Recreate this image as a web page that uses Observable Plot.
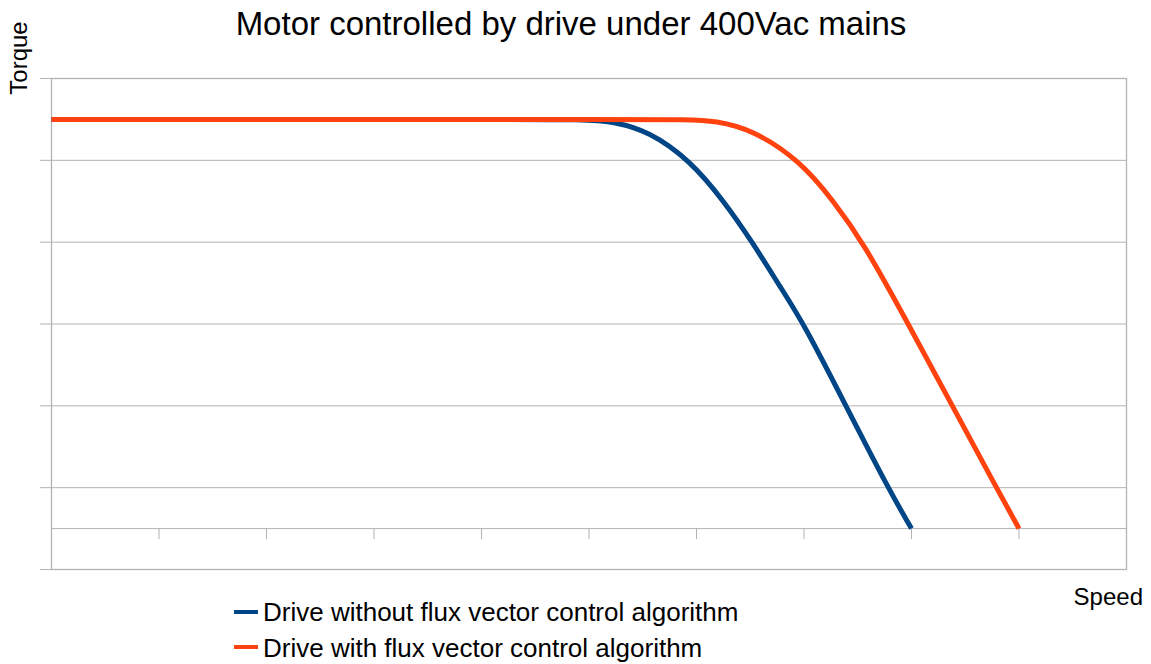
<!DOCTYPE html>
<html>
<head>
<meta charset="utf-8">
<script src="https://cdn.jsdelivr.net/npm/d3@7"></script>
<script src="https://cdn.jsdelivr.net/npm/@observablehq/plot@0.6"></script>
<style>
  html, body { margin: 0; padding: 0; background: #fff; }
  #wrap { position: relative; width: 1151px; height: 664px; font-family: "Liberation Sans", Arial, sans-serif; color: #000; }
  #wrap svg { position: absolute; left: 0; top: 0; }
  .abs { position: absolute; white-space: nowrap; }
  #title { left: 0; width: 1142px; top: 7px; text-align: center; font-size: 33px; line-height: 33px; }
  #torque { left: 19px; top: 58px; font-size: 24px; line-height: 24px; transform: translate(-50%, -50%) rotate(-90deg); }
  #speed { right: 8px; top: 585px; font-size: 24px; line-height: 24px; }
  .legtext { left: 263px; font-size: 26px; line-height: 26px; }
  .sw { left: 234px; width: 24px; height: 4px; }
</style>
</head>
<body>
<div id="wrap"></div>
<script>
// ---- data ----
const seriesNames = ["Drive without flux vector control algorithm", "Drive with flux vector control algorithm"];
const seriesColors = ["#004586", "#ff420e"];

const blueSpeed  = [0, 1, 2, 3, 4, 5, 5.23, 5.55, 5.94, 6.25, 6.52, 6.78, 7.0, 7.39, 7.78, 8.0];
const blueTorque = [5.5, 5.5, 5.5, 5.5, 5.5, 5.5, 5.47, 5.36, 5.0, 4.51, 4.0, 3.45, 3.0, 2.0, 1.0, 0.5];

const orangeSpeed  = [0, 1, 2, 3, 4, 5, 6, 6.16, 6.5, 6.96, 7.27, 7.55, 7.97, 8.38, 8.79, 9.0];
const orangeTorque = [5.5, 5.5, 5.5, 5.5, 5.5, 5.5, 5.5, 5.48, 5.39, 5.0, 4.51, 4.0, 3.0, 2.0, 1.0, 0.5];

const xTicks = [0, 1, 2, 3, 4, 5, 6, 7, 8, 9, 10];
const yTicks = [0, 1, 2, 3, 4, 5, 6];
const xAxisAt = [0.5];

const titleText = "Motor controlled by drive under 400Vac mains";
const yLabel = "Torque";
const xLabel = "Speed";

// ---- build ----
const blue = blueSpeed.map((s, i) => ({speed: s, torque: blueTorque[i]}));
const orange = orangeSpeed.map((s, i) => ({speed: s, torque: orangeTorque[i]}));
const grid = "#b3b3b3";

const chart = Plot.plot({
  width: 1151,
  height: 664,
  marginLeft: 51,
  marginRight: 25,
  marginTop: 78,
  marginBottom: 95,
  x: {domain: [0, 10], axis: null},
  y: {domain: [0, 6], axis: null},
  style: {background: "#fff", color: grid},
  marks: [
    Plot.ruleY(yTicks, {x1: 0, x2: 10, insetLeft: -11, stroke: grid, strokeWidth: 1}),
    Plot.ruleY(xAxisAt, {x1: 0, x2: 10, stroke: grid, strokeWidth: 1}),
    Plot.ruleX(xTicks, {y1: 0.5, y2: 0.5, insetBottom: -11, stroke: grid, strokeWidth: 1}),
    Plot.frame({stroke: grid, strokeWidth: 1.3}),
    Plot.line(blue, {x: "speed", y: "torque", stroke: seriesColors[0], strokeWidth: 5, curve: "basis", strokeLinecap: "butt", strokeLinejoin: "round"}),
    Plot.line(orange, {x: "speed", y: "torque", stroke: seriesColors[1], strokeWidth: 5, curve: "basis", strokeLinecap: "butt", strokeLinejoin: "round"})
  ]
});

const wrap = document.getElementById("wrap");
wrap.appendChild(chart);

function addDiv(id, cls, text, style) {
  const d = document.createElement("div");
  if (id) d.id = id;
  d.className = "abs " + (cls || "");
  d.textContent = text;
  if (style) Object.assign(d.style, style);
  wrap.appendChild(d);
  return d;
}
addDiv("title", "", titleText);
addDiv("torque", "", yLabel);
addDiv("speed", "", xLabel);
const legTops = [599, 635];
const swTops = [610, 645];
seriesNames.forEach((name, i) => {
  addDiv(null, "sw", "", {top: swTops[i] + "px", background: seriesColors[i]});
  addDiv(null, "legtext", name, {top: legTops[i] + "px"});
});
</script>
</body>
</html>
